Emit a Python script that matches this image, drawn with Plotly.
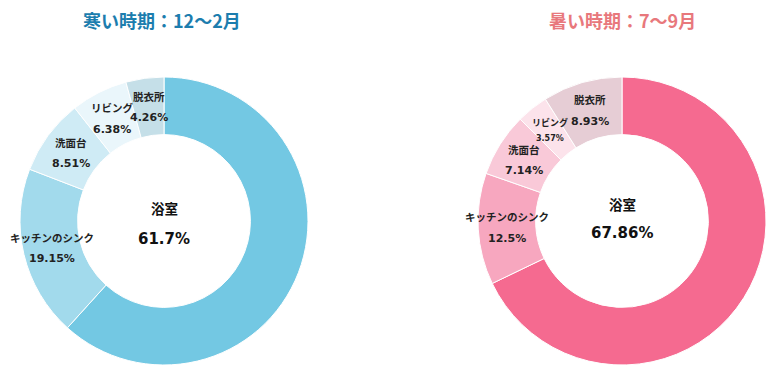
import numpy as np
import plotly.graph_objects as go

# ---- data ----
categories = ["浴室", "キッチンのシンク", "洗面台", "リビング", "脱衣所"]
cold_values = [61.7, 19.15, 8.51, 6.38, 4.26]
hot_values = [67.86, 12.5, 7.14, 3.57, 8.93]
cold_title = "寒い時期：12〜2月"
hot_title = "暑い時期：7〜9月"

# ---- style ----
W, H = 777, 381
OFF = 8  # page body margin offset
cold_colors = ["#73C8E3", "#A2DAEC", "#CFEBF5", "#EAF6FB", "#C5DFE8"]
hot_colors = ["#F56A90", "#F7A7BF", "#F9C9D8", "#FCE3EB", "#E6CDD5"]
HOLE = 0.6
R = 144
charts = [
    dict(values=cold_values, colors=cold_colors, title=cold_title, title_color="#1C7DAE",
         cx=164, cy=221, tx=162, ty=20, c_name=-12, c_pct=18),
    dict(values=hot_values, colors=hot_colors, title=hot_title, title_color="#E8787C",
         cx=622, cy=221, tx=622, ty=20, c_name=-16, c_pct=12),
]
FONT = "DejaVu Sans, Noto Sans CJK JP, sans-serif"
TFONT = "Noto Sans CJK JP, sans-serif"


def pt(px, py):
    return (px - OFF) / W, 1 - (py - OFF) / H


def ann(px, py, text, size, color, family=FONT):
    x, y = pt(px, py)
    return dict(x=x, y=y, xref="paper", yref="paper", xanchor="center", yanchor="middle",
                text=text, showarrow=False, font=dict(size=size, color=color, family=family))


fig = go.Figure()
annotations = []
for c in charts:
    cx, cy = c["cx"], c["cy"]
    x0, y1 = pt(cx - R, cy - R)
    x1, y0 = pt(cx + R, cy + R)
    fig.add_trace(go.Pie(
        labels=categories, values=c["values"], hole=HOLE, sort=False,
        direction="clockwise", rotation=0,
        marker=dict(colors=c["colors"], line=dict(color="white", width=1)),
        textinfo="none", hoverinfo="label+percent", showlegend=False,
        domain=dict(x=[x0, x1], y=[y0, y1]),
    ))
    vals = np.array(c["values"], dtype=float)
    frac = vals / vals.sum()
    cum = np.cumsum(frac) - frac / 2
    rmid = R * (1 + HOLE) / 2
    for i, (name, v) in enumerate(zip(categories, c["values"])):
        pct = f"{v:g}%"
        if i == 0:
            annotations.append(ann(cx, cy + c["c_name"], f"<b>{name}</b>", 13.5, "#111"))
            annotations.append(ann(cx, cy + c["c_pct"], f"<b>{pct}</b>", 15, "#111"))
            continue
        th = 2 * np.pi * cum[i]
        px = cx + rmid * np.sin(th)
        py = cy - rmid * np.cos(th)
        small = v < 4
        annotations.append(ann(px, py - (8 if small else 10), f"<b>{name}</b>", 9 if small else 10.5, "#222"))
        annotations.append(ann(px, py + (8 if small else 11), f"<b>{pct}</b>", 8 if small else 11, "#222"))
    annotations.append(ann(c["tx"], c["ty"], f"<b>{c['title']}</b>", 18, c["title_color"], TFONT))

fig.update_layout(
    width=W, height=H, margin=dict(l=0, r=0, t=0, b=0),
    paper_bgcolor="white", plot_bgcolor="white",
    annotations=annotations,
)
fig.write_html("out.html")
